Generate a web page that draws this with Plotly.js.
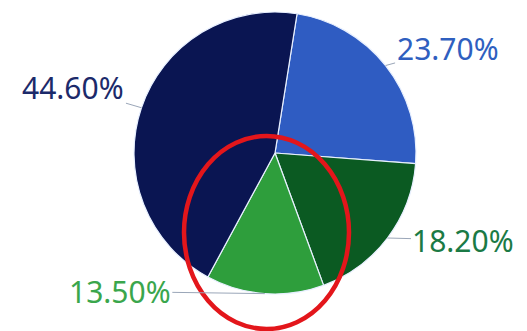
<!DOCTYPE html>
<html>
<head>
<meta charset="utf-8">
<script src="https://cdn.plot.ly/plotly-3.0.1.min.js"></script>
<style>html,body{margin:0;padding:0;background:#fff;}#chart{width:527px;height:331px;}</style>
</head>
<body>
<div id="chart"></div>
<script>
const categories = ["A", "B", "C", "D"];
const values = [23.7, 18.2, 13.5, 44.6];
const labelsText = ["23.70%", "18.20%", "13.50%", "44.60%"];
const sliceColors = ["#2f5cc2", "#0b5a22", "#2e9e3c", "#0a1552"];
const textColors = ["#2f5fbf", "#1b7a45", "#3aa64c", "#1c2a6a"];

const W = 527, H = 331;
const rotation = 9;
const domX = [134 / W, 416 / W];
const domY = [37 / H, 319 / H];
// label offsets (pixels) from the slice edge anchor, style only
const labelOffsets = [[62, -17], [76, 2], [-145, -2], [-68, -20]];

const trace = {
  type: "pie",
  labels: categories,
  values: values,
  textinfo: "none",
  sort: false,
  direction: "clockwise",
  rotation: rotation,
  marker: {colors: sliceColors, line: {color: "#e8f0ff", width: 1.2}},
  domain: {x: domX, y: domY},
  hoverinfo: "none",
  automargin: false
};

// anchors at the middle of each slice's outer edge, derived from the values
const total = values.reduce((a, b) => a + b, 0);
const cxPx = (domX[0] + domX[1]) / 2 * W;
const cyPx = (1 - (domY[0] + domY[1]) / 2) * H;
const rPx = Math.min((domX[1] - domX[0]) * W, (domY[1] - domY[0]) * H) / 2;
let cum = 0;
const annotations = values.map((v, i) => {
  const mid = (rotation + (cum + v / 2) / total * 360) * Math.PI / 180;
  cum += v;
  const px = cxPx + rPx * Math.sin(mid);
  const py = cyPx - rPx * Math.cos(mid);
  return {
    x: px / W, y: 1 - py / H, xref: "paper", yref: "paper",
    text: labelsText[i],
    showarrow: true, arrowhead: 0, arrowwidth: 1, arrowcolor: "#9aa6b8",
    ax: labelOffsets[i][0], ay: labelOffsets[i][1], standoff: 0,
    font: {family: "Noto Sans, Open Sans, sans-serif", size: 30, color: textColors[i]}
  };
});

const layout = {
  width: W, height: H,
  margin: {l: 0, r: 0, t: 0, b: 0},
  paper_bgcolor: "#ffffff",
  plot_bgcolor: "#ffffff",
  showlegend: false,
  annotations: annotations,
  shapes: [{
    type: "circle", xref: "paper", yref: "paper",
    x0: 184 / W, x1: 349 / W, y0: 1 - 329 / H, y1: 1 - 136 / H,
    line: {color: "#e3161b", width: 4.5}
  }]
};

Plotly.newPlot("chart", [trace], layout, {staticPlot: true});
</script>
</body>
</html>
